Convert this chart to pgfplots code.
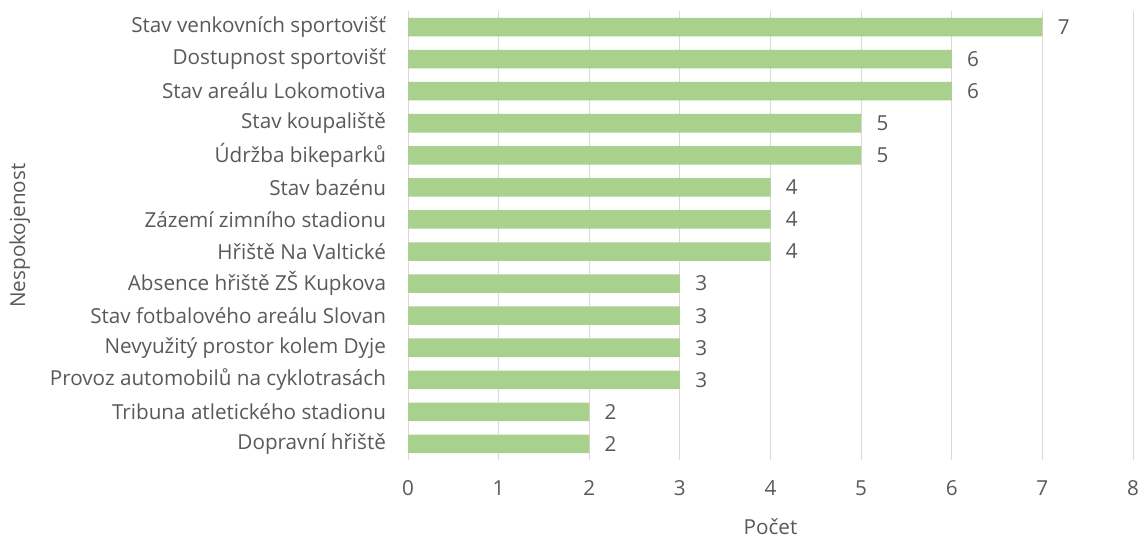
\documentclass[border=0pt]{standalone}
\usepackage{fontspec}
\setmainfont{Open Sans}
\usepackage{pgfplots}
\pgfplotsset{compat=1.18}
\definecolor{bar}{HTML}{A9D18E}
\definecolor{txt}{HTML}{595959}
\definecolor{grd}{HTML}{D9D9D9}
\begin{document}
\begin{tikzpicture}
\path[use as bounding box] (0,0) rectangle (855.75pt,404.25pt);
\begin{axis}[
  at={(306pt,59.25pt)}, anchor=south west,
  scale only axis, width=543.75pt, height=336.75pt,
  xmin=0, xmax=8, xtick={0,...,8},
  ymin=-0.5, ymax=13.5, y dir=reverse,
  ytick={0,...,13},
  yticklabels={Stav venkovních sportovišť,Dostupnost sportovišť,Stav areálu Lokomotiva,Stav koupaliště,Údržba bikeparků,Stav bazénu,Zázemí zimního stadionu,Hřiště Na Valtické,Absence hřiště ZŠ Kupkova,Stav fotbalového areálu Slovan,Nevyužitý prostor kolem Dyje,Provoz automobilů na cyklotrasách,Tribuna atletického stadionu,Dopravní hřiště},
  axis line style={draw=none},
  major tick length=0pt,
  xmajorgrids, grid style={grd, line width=0.75pt},
  tick label style={font=\fontsize{15.5}{18}\selectfont, text=txt},
  /pgf/number format/assume math mode=true,
  yticklabel style={xshift=-13pt},
  xticklabel style={yshift=-12pt},
  xlabel={Počet}, ylabel={Nespokojenost},
  label style={font=\fontsize{15.5}{18}\selectfont, text=txt},
  xlabel style={yshift=-10pt},
  ylabel style={yshift=8pt},
  clip=false,
  point meta=x,
  nodes near coords,
  nodes near coords align={horizontal},
  every node near coord/.append style={font=\fontsize{15.5}{18}\selectfont, text=txt, anchor=west, xshift=8pt},
]
\addplot[xbar, bar width=13.9pt, fill=bar, draw=none] coordinates {
(7,0) (6,1) (6,2) (5,3) (5,4) (4,5) (4,6) (4,7) (3,8) (3,9) (3,10) (3,11) (2,12) (2,13)};
\end{axis}
\end{tikzpicture}
\end{document}
